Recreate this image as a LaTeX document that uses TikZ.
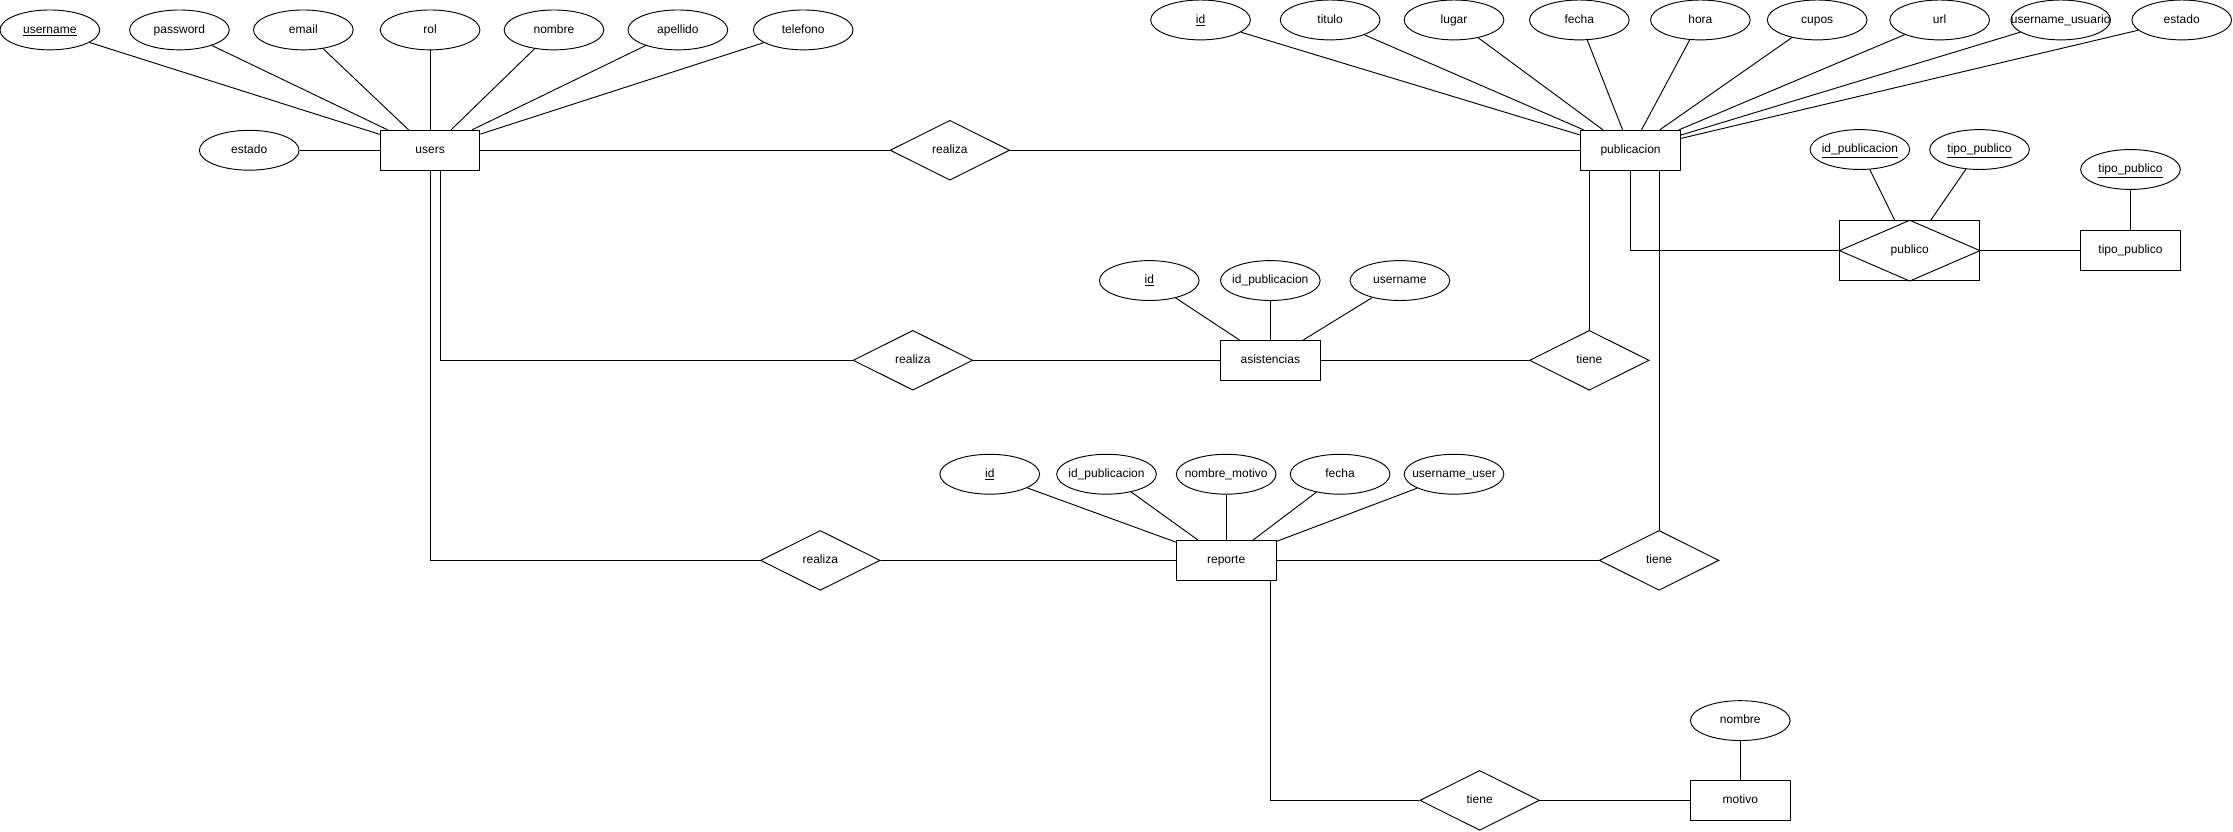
\documentclass[tikz,border=0pt]{standalone}
\usepackage{fontspec}
\setmainfont{Liberation Sans}
\usepackage{tikz}
\usetikzlibrary{shapes.geometric, positioning, calc}
\definecolor{erblack}{HTML}{000000}
\tikzset{
  ertext/.style={text height=7pt, text depth=2pt},
  erentity/.style={ertext, draw=erblack, rectangle, minimum width=2.8cm, minimum height=1.12cm, inner sep=0pt},
  erattr/.style={ertext, draw=erblack, ellipse, minimum width=2.8cm, minimum height=1.12cm, inner sep=0pt},
  errel/.style={ertext, draw=erblack, diamond, aspect=2, minimum width=3.36cm, minimum height=1.68cm, inner sep=0pt},
}
\newcommand{\attrtext}[1]{\makebox[0pt][c]{#1}}

\begin{document}
\begin{tikzpicture}[x=0.04cm, y=-0.04cm, line width=0.75pt, font=\fontsize{9.6}{11}\selectfont]
\useasboundingbox (0,0) rectangle (1568,584);

% users
\node[erentity] (users) at (302,105.5) {users};
\node[erattr] (uusername) at (35,21) {\attrtext{\underline{username}}};
\node[erattr] (upassword) at (126,21) {\attrtext{password}};
\node[erattr] (uemail) at (213,21) {\attrtext{email}};
\node[erattr] (urol) at (302,21) {\attrtext{rol}};
\node[erattr] (unombre) at (389,21) {\attrtext{nombre}};
\node[erattr] (uapellido) at (476,21) {\attrtext{apellido}};
\node[erattr] (utelefono) at (564,21) {\attrtext{telefono}};
\node[erattr] (uestado) at (175,105.5) {\attrtext{estado}};
\foreach \a in {uusername,upassword,uemail,urol,unombre,uapellido,utelefono,uestado}
  \draw (\a) -- (users);

% publicacion
\node[erentity] (publicacion) at (1145,105.5) {publicacion};
\node[erattr] (pid) at (843,14) {\attrtext{\underline{id}}};
\node[erattr] (ptitulo) at (934,14) {\attrtext{titulo}};
\node[erattr] (plugar) at (1021,14) {\attrtext{lugar}};
\node[erattr] (pfecha) at (1109,14) {\attrtext{fecha}};
\node[erattr] (phora) at (1194,14) {\attrtext{hora}};
\node[erattr] (pcupos) at (1276,14) {\attrtext{cupos}};
\node[erattr] (purl) at (1362,14) {\attrtext{url}};
\node[erattr] (pusername) at (1447,14) {\attrtext{username\_usuario}};
\node[erattr] (pestado) at (1532,14) {\attrtext{estado}};
\foreach \a in {pid,ptitulo,plugar,pfecha,phora,pcupos,purl,pusername,pestado}
  \draw (\a) -- (publicacion);

\node[errel] (realizapub) at (667,105.5) {realiza};
\draw (users) -- (realizapub) -- (publicacion);

% publico / tipo_publico
\node[ertext, draw=erblack, rectangle, minimum width=3.92cm, minimum height=1.68cm, inner sep=0pt] (publico) at (1341,176) {publico};
\draw (publico.west) -- (publico.north) -- (publico.east) -- (publico.south) -- cycle;
\node[erattr] (pbidpub) at (1306,105) {\attrtext{\underline{id\_publicacion}}};
\node[erattr] (pbtipo) at (1390,105) {\attrtext{\underline{tipo\_publico}}};
\draw (pbidpub) -- (publico);
\draw (pbtipo) -- (publico);
\node[erentity] (tipopublico) at (1496,176) {tipo\_publico};
\node[erattr] (tptipo) at (1496,119) {\attrtext{\underline{tipo\_publico}}};
\draw (tptipo) -- (tipopublico);
\draw (publicacion.south) |- (publico.west);
\draw (publico.east) -- (tipopublico);

% asistencias
\node[erentity] (asistencias) at (892,253) {asistencias};
\node[erattr] (aid) at (807,197) {\attrtext{\underline{id}}};
\node[erattr] (aidpub) at (892,197) {\attrtext{id\_publicacion}};
\node[erattr] (ausername) at (983,197) {\attrtext{username}};
\foreach \a in {aid,aidpub,ausername}
  \draw (\a) -- (asistencias);
\node[errel] (realizaasis) at (641,253) {realiza};
\node[errel] (tieneasis) at (1116,253) {tiene};
\draw ([xshift=0.28cm]users.south) |- (realizaasis);
\draw (realizaasis) -- (asistencias) -- (tieneasis);
\draw (tieneasis) -- (tieneasis |- publicacion.south);

% reporte
\node[erentity] (reporte) at (861,393.5) {reporte};
\node[erattr] (rid) at (695,333) {\attrtext{\underline{id}}};
\node[erattr] (ridpub) at (777,333) {\attrtext{id\_publicacion}};
\node[erattr] (rmotivo) at (861,333) {\attrtext{nombre\_motivo}};
\node[erattr] (rfecha) at (941,333) {\attrtext{fecha}};
\node[erattr] (ruser) at (1021,333) {\attrtext{username\_user}};
\foreach \a in {rid,ridpub,rmotivo,rfecha,ruser}
  \draw (\a) -- (reporte);
\node[errel] (realizarep) at (576,393.5) {realiza};
\node[errel] (tienerep) at (1165,393.5) {tiene};
\draw (users.south) |- (realizarep);
\draw (realizarep) -- (reporte) -- (tienerep);
\draw (tienerep) -- (tienerep |- publicacion.south);

% motivo
\node[errel] (tienemot) at (1039,562) {tiene};
\node[erentity] (motivo) at (1222,562) {motivo};
\node[erattr] (mnombre) at (1222,506) {\attrtext{nombre}};
\draw (mnombre) -- (motivo);
\draw ([xshift=-0.16cm]reporte.south east) |- (tienemot);
\draw (tienemot) -- (motivo);
\end{tikzpicture}
\end{document}
